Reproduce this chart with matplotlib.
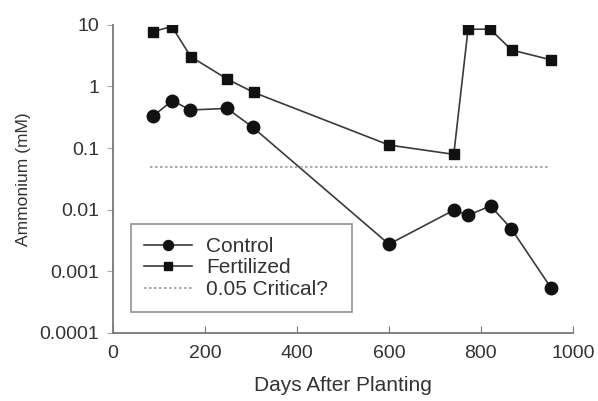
import matplotlib
matplotlib.use("Agg")
import matplotlib.pyplot as plt

plt.rcParams["font.family"] = ["Liberation Sans", "DejaVu Sans"]

# data
fert_days = [87, 128, 169, 248, 306, 600, 741, 772, 820, 867, 953]
fert_nh4 = [7.8, 9.4, 3.05, 1.32, 0.8, 0.112, 0.079, 8.5, 8.5, 3.9, 2.7]
ctrl_days = [88, 129, 168, 248, 304, 600, 741, 772, 821, 866, 953]
ctrl_nh4 = [0.335, 0.59, 0.415, 0.44, 0.217, 0.00275, 0.0098, 0.0081, 0.0115, 0.0049, 0.00053]
crit_days = [80, 950]
crit_level = 0.05

fig = plt.figure(figsize=(5.98, 4.01), dpi=100)
ax = fig.add_axes([0.189, 0.170, 0.769, 0.768])

ax.plot(ctrl_days, ctrl_nh4, color="#3a3a3a", lw=1.2, marker="o", ms=9,
        mfc="#111111", mec="#111111", label="Control")
ax.plot(fert_days, fert_nh4, color="#3a3a3a", lw=1.2, marker="s", ms=7.5,
        mfc="#111111", mec="#111111", label="Fertilized")
ax.plot(crit_days, [crit_level] * len(crit_days), color="#999999", lw=1.2,
        ls=(0, (1.5, 1.5)), label="0.05 Critical?")

ax.set_yscale("log")
ax.set_ylim(1e-4, 10)
ax.set_xlim(0, 1000)
ax.set_xticks([0, 200, 400, 600, 800, 1000])
ax.set_yticks([1e-4, 1e-3, 1e-2, 0.1, 1, 10])
ax.set_yticklabels(["0.0001", "0.001", "0.01", "0.1", "1", "10"])
ax.minorticks_off()

for s in ["top", "right"]:
    ax.spines[s].set_visible(False)
for s in ["left", "bottom"]:
    ax.spines[s].set_color("#777777")
    ax.spines[s].set_linewidth(1.3)
ax.tick_params(axis="x", direction="in", length=5, color="#777777",
               labelsize=14, labelcolor="#333333", pad=9)
ax.tick_params(axis="y", direction="out", length=4, color="#aaaaaa",
               labelsize=14, labelcolor="#333333", pad=6)

ax.set_xlabel("Days After Planting", fontsize=15, color="#333333", labelpad=10)
ax.set_ylabel("Ammonium (mM)", fontsize=12.5, color="#333333", labelpad=6)

leg = ax.legend(loc="lower left", bbox_to_anchor=(0.04, 0.068, 0.48, 0.29),
                mode="expand", frameon=True, fancybox=False, fontsize=15,
                handlelength=2.3, handletextpad=0.65, borderaxespad=0,
                labelspacing=0.12, borderpad=0.62, markerscale=0.8)
leg.get_frame().set_edgecolor("#777777")
leg.get_frame().set_linewidth(1.2)
for t in leg.get_texts():
    t.set_color("#333333")

fig.savefig("out.png", dpi=100)
